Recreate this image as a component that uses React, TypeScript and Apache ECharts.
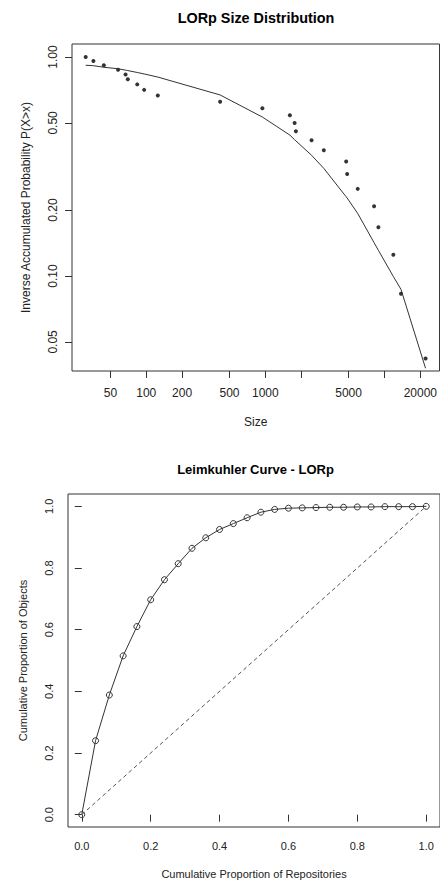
import React, { useEffect, useRef } from "react";
import * as echarts from "echarts";

// ---- Top chart: LORp Size Distribution (log-log) ----
const sizes = [31, 36, 44, 58, 67, 70, 84, 96, 125, 417, 944, 1607, 1760, 1805, 2442, 3096, 4769, 4862, 5964, 8180, 8892, 11873, 13772, 22130];
const invProb = [1.0, 0.958, 0.917, 0.875, 0.833, 0.792, 0.75, 0.708, 0.667, 0.625, 0.583, 0.542, 0.5, 0.458, 0.417, 0.375, 0.333, 0.292, 0.25, 0.208, 0.167, 0.125, 0.083, 0.042];
const fitProb = [0.917, 0.913, 0.898, 0.884, 0.871, 0.867, 0.85, 0.837, 0.81, 0.671, 0.532, 0.44, 0.419, 0.414, 0.356, 0.31, 0.23, 0.227, 0.193, 0.142, 0.131, 0.0995, 0.0868, 0.0379];
const sizeTicks = [50, 100, 200, 500, 1000, 2000, 5000, 10000, 20000];
const sizeTickLabels = [50, 100, 200, 500, 1000, 5000, 20000];
const probTicks = [0.05, 0.1, 0.2, 0.5, 1.0];

// ---- Bottom chart: Leimkuhler Curve ----
const repoProp = [0, 0.04, 0.08, 0.12, 0.16, 0.2, 0.24, 0.28, 0.32, 0.36, 0.4, 0.44, 0.48, 0.52, 0.56, 0.6, 0.64, 0.68, 0.72, 0.76, 0.8, 0.84, 0.88, 0.92, 0.96, 1.0];
const objProp = [0, 0.24, 0.388, 0.515, 0.61, 0.697, 0.762, 0.814, 0.864, 0.898, 0.925, 0.944, 0.963, 0.981, 0.99, 0.994, 0.995, 0.996, 0.997, 0.997, 0.998, 0.998, 0.999, 0.999, 0.999, 1.0];
const diagX = [0, 1];
const diagY = [0, 1];
const propTicks = [0, 0.2, 0.4, 0.6, 0.8, 1.0];

const FONT = "'Liberation Sans', Arial, sans-serif";
const TXT = "#222";
const LINE = "#333";

export default function App() {
  const ref = useRef<HTMLDivElement>(null);
  useEffect(() => {
    if (!ref.current) return;
    const chart = echarts.init(ref.current, null, { renderer: "svg" });
    const option: any = {
      animation: false,
      backgroundColor: "#fff",
      textStyle: { fontFamily: FONT },
      title: [
        {
          text: "LORp Size Distribution",
          left: 256,
          top: 18,
          padding: 0,
          textAlign: "center",
          textVerticalAlign: "middle",
          textStyle: { fontSize: 14.4, fontWeight: "bold", color: "#000", fontFamily: FONT },
        },
        {
          text: "Leimkuhler Curve - LORp",
          left: 255.5,
          top: 469,
          padding: 0,
          textAlign: "center",
          textVerticalAlign: "middle",
          textStyle: { fontSize: 13, fontWeight: "bold", color: "#000", fontFamily: FONT },
        },
      ],
      grid: [
        { left: 72, top: 44, width: 369, height: 327, show: true, borderColor: LINE, borderWidth: 1, backgroundColor: "transparent" },
        { left: 68, top: 494, width: 375, height: 335, show: true, borderColor: LINE, borderWidth: 1, backgroundColor: "transparent" },
      ],
      xAxis: [
        {
          type: "log",
          logBase: 10,
          gridIndex: 0,
          min: 23.8,
          max: 29000,
          axisLine: { show: false },
          splitLine: { show: false },
          axisTick: { show: true, length: 7, customValues: sizeTicks, lineStyle: { color: LINE } },
          axisLabel: {
            customValues: sizeTickLabels,
            formatter: (v: number) => String(Math.round(v)),
            margin: 22,
            verticalAlign: "middle",
            fontSize: 12,
            color: TXT,
            fontFamily: FONT,
          },
          name: "Size",
          nameLocation: "middle",
          nameGap: 51,
          nameTextStyle: { fontSize: 12, color: TXT, verticalAlign: "middle", fontFamily: FONT },
        },
        {
          type: "value",
          gridIndex: 1,
          min: -0.04,
          max: 1.04,
          axisLine: { show: false },
          splitLine: { show: false },
          axisTick: { show: true, length: 7, customValues: propTicks, lineStyle: { color: LINE } },
          axisLabel: {
            customValues: propTicks,
            formatter: (v: number) => v.toFixed(1),
            margin: 19,
            verticalAlign: "middle",
            fontSize: 11,
            color: TXT,
            fontFamily: FONT,
          },
          name: "Cumulative Proportion of Repositories",
          nameLocation: "middle",
          nameGap: 46.5,
          nameTextStyle: { fontSize: 11, color: TXT, verticalAlign: "middle", fontFamily: FONT },
        },
      ],
      yAxis: [
        {
          type: "log",
          logBase: 10,
          gridIndex: 0,
          min: 0.03683,
          max: 1.1467,
          axisLine: { show: false },
          splitLine: { show: false },
          axisTick: { show: true, length: 7, customValues: probTicks, lineStyle: { color: LINE } },
          axisLabel: {
            customValues: probTicks,
            formatter: (v: number) => v.toFixed(2),
            rotate: 90,
            margin: 19.5,
            align: "center",
            verticalAlign: "middle",
            fontSize: 12,
            color: TXT,
            fontFamily: FONT,
          },
          name: "Inverse Accumulated Probability P(X>x)",
          nameLocation: "middle",
          nameRotate: 90,
          nameGap: 46,
          nameTextStyle: { fontSize: 12, color: TXT, align: "center", verticalAlign: "middle", fontFamily: FONT },
        },
        {
          type: "value",
          gridIndex: 1,
          min: -0.04,
          max: 1.04,
          axisLine: { show: false },
          splitLine: { show: false },
          axisTick: { show: true, length: 7, customValues: propTicks, lineStyle: { color: LINE } },
          axisLabel: {
            customValues: propTicks,
            formatter: (v: number) => v.toFixed(1),
            rotate: 90,
            margin: 19,
            align: "center",
            verticalAlign: "middle",
            fontSize: 11,
            color: TXT,
            fontFamily: FONT,
          },
          name: "Cumulative Proportion of Objects",
          nameLocation: "middle",
          nameRotate: 90,
          nameGap: 45,
          nameTextStyle: { fontSize: 11, color: TXT, align: "center", verticalAlign: "middle", fontFamily: FONT },
        },
      ],
      series: [
        {
          name: "Observed",
          type: "scatter",
          xAxisIndex: 0,
          yAxisIndex: 0,
          symbol: "circle",
          symbolSize: 4,
          itemStyle: { color: "#000" },
          data: sizes.map((s, i) => [s, invProb[i]]),
        },
        {
          name: "Fit",
          type: "line",
          xAxisIndex: 0,
          yAxisIndex: 0,
          showSymbol: false,
          symbol: "none",
          lineStyle: { color: LINE, width: 1 },
          data: sizes.map((s, i) => [s, fitProb[i]]),
        },
        {
          name: "Leimkuhler",
          type: "line",
          xAxisIndex: 1,
          yAxisIndex: 1,
          symbol: "circle",
          symbolSize: 6,
          itemStyle: { color: "rgba(0,0,0,0)", borderColor: LINE, borderWidth: 1 },
          lineStyle: { color: LINE, width: 1 },
          data: repoProp.map((x, i) => [x, objProp[i]]),
        },
        {
          name: "Equality",
          type: "line",
          xAxisIndex: 1,
          yAxisIndex: 1,
          symbol: "none",
          lineStyle: { color: "#555", width: 1, type: [4, 3] },
          data: diagX.map((x, i) => [x, diagY[i]]),
        },
      ],
    };
    chart.setOption(option);
    return () => chart.dispose();
  }, []);
  return (
    <div
      ref={ref}
      style={{ position: "absolute", left: 0, top: 0, width: 440, height: 880, background: "#fff" }}
    />
  );
}
